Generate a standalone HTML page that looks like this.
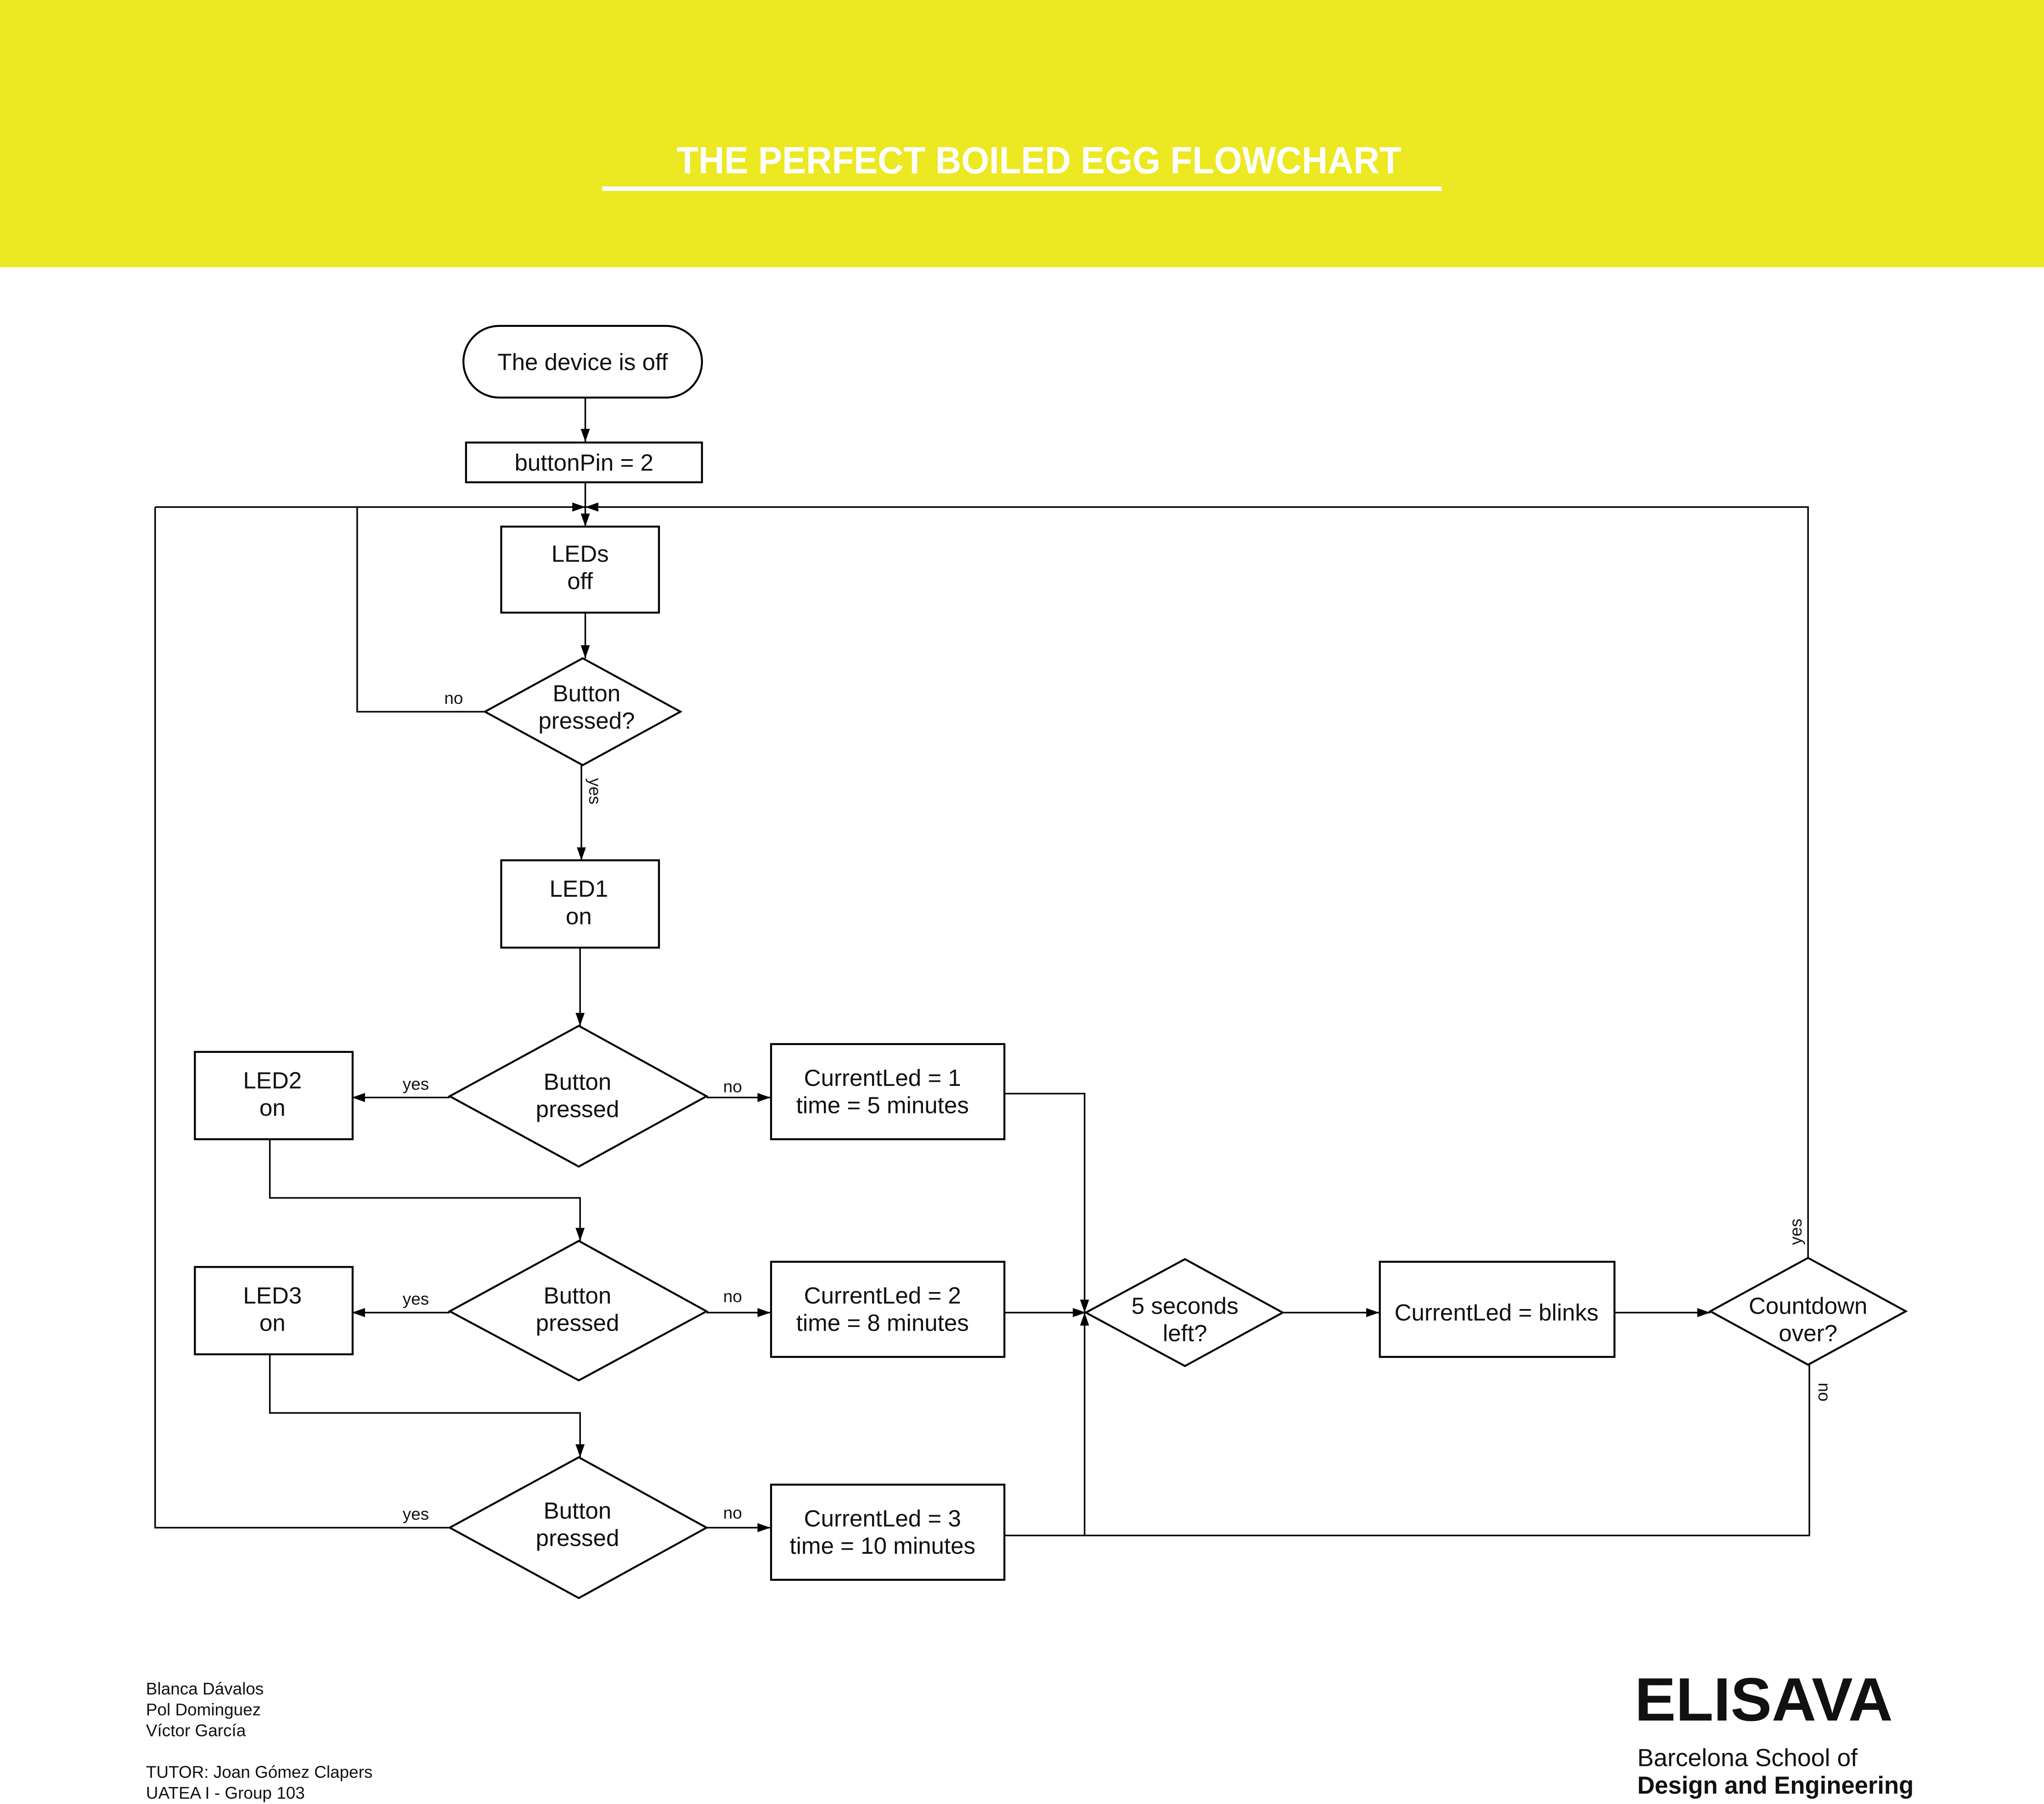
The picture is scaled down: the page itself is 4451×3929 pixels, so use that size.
<!DOCTYPE html>
<html><head><meta charset="utf-8"><style>
html,body{margin:0;padding:0;background:#fff;}
svg{display:block;}
text{font-family:"Liberation Sans",sans-serif;fill:#111;}
</style></head><body>
<svg width="4451" height="3929" viewBox="0 0 1568 1384" preserveAspectRatio="none" xmlns="http://www.w3.org/2000/svg">
<defs><marker id="a" viewBox="0 0 10 10" refX="10" refY="5" markerWidth="10" markerHeight="10" markerUnits="userSpaceOnUse" orient="auto"><path d="M0,1.5 L10,5 L0,8.5 z" fill="#000"/></marker></defs>
<rect x="0" y="0" width="1568" height="205" fill="#ECE821"/>
<text x="519" y="133" font-size="29" font-weight="bold" style="fill:#fff" textLength="556" lengthAdjust="spacingAndGlyphs">THE PERFECT BOILED EGG FLOWCHART</text>
<rect x="462" y="143" width="644" height="3.5" fill="#fff"/>
<g fill="none" stroke="#000" stroke-width="1.5">
<rect x="355.5" y="250" width="183" height="55" rx="27.5"/>
<rect x="357.5" y="339.5" width="181" height="30.5"/>
<rect x="384.5" y="404" width="121" height="66"/>
<polygon points="372,546 447,505 522,546 447,587"/>
<rect x="384.5" y="660" width="121" height="67"/>
<polygon points="345,841 444,787 542,841 444,895"/>
<rect x="149.5" y="807" width="121" height="67"/>
<rect x="591.5" y="801" width="179" height="73"/>
<polygon points="345,1006 444,952 542,1006 444,1059"/>
<rect x="149.5" y="972" width="121" height="67"/>
<rect x="591.5" y="968" width="179" height="73"/>
<polygon points="345,1172 444,1118 542,1172 444,1226"/>
<rect x="591.5" y="1139" width="179" height="73"/>
<polygon points="833,1007 909,966 984,1007 909,1048"/>
<rect x="1058.5" y="968" width="180" height="73"/>
<polygon points="1312,1006 1387,965 1462,1006 1387,1047"/>
</g>
<g fill="none" stroke="#000" stroke-width="1.2">
<path d="M449,305 V339" marker-end="url(#a)"/>
<path d="M449,370 V404" marker-end="url(#a)"/>
<path d="M449,470 V505" marker-end="url(#a)"/>
<path d="M372,546 H274 V389 H449" marker-end="url(#a)"/>
<path d="M119,389 H274"/>
<path d="M446,587 V660" marker-end="url(#a)"/>
<path d="M445,727 V787" marker-end="url(#a)"/>
<path d="M345,842 H270" marker-end="url(#a)"/>
<path d="M542,842 H591" marker-end="url(#a)"/>
<path d="M207,874 V919 H445 V952" marker-end="url(#a)"/>
<path d="M345,1007 H270" marker-end="url(#a)"/>
<path d="M542,1007 H591" marker-end="url(#a)"/>
<path d="M207,1039 V1084 H445 V1118" marker-end="url(#a)"/>
<path d="M345,1172 H119 V389"/>
<path d="M542,1172 H591" marker-end="url(#a)"/>
<path d="M770,839 H832 V1007" marker-end="url(#a)"/>
<path d="M770,1007 H833" marker-end="url(#a)"/>
<path d="M770,1178 H1388 V1047"/>
<path d="M832,1178 V1007" marker-end="url(#a)"/>
<path d="M984,1007 H1058" marker-end="url(#a)"/>
<path d="M1238,1007 H1312" marker-end="url(#a)"/>
<path d="M1387,965 V389 H449" marker-end="url(#a)"/>
</g>
<g font-size="18" text-anchor="middle">
<text x="447" y="284">The device is off</text>
<text x="448" y="361">buttonPin = 2</text>
<text x="445" y="431">LEDs</text><text x="445" y="452">off</text>
<text x="450" y="538">Button</text><text x="450" y="559">pressed?</text>
<text x="444" y="688">LED1</text><text x="444" y="709">on</text>
<text x="443" y="836">Button</text><text x="443" y="857">pressed</text>
<text x="209" y="835">LED2</text><text x="209" y="856">on</text>
<text x="677" y="833">CurrentLed = 1</text><text x="677" y="854">time = 5 minutes</text>
<text x="443" y="1000">Button</text><text x="443" y="1021">pressed</text>
<text x="209" y="1000">LED3</text><text x="209" y="1021">on</text>
<text x="677" y="1000">CurrentLed = 2</text><text x="677" y="1021">time = 8 minutes</text>
<text x="443" y="1165">Button</text><text x="443" y="1186">pressed</text>
<text x="677" y="1171">CurrentLed = 3</text><text x="677" y="1192">time = 10 minutes</text>
<text x="909" y="1008">5 seconds</text><text x="909" y="1029">left?</text>
<text x="1148" y="1013">CurrentLed = blinks</text>
<text x="1387" y="1008">Countdown</text><text x="1387" y="1029">over?</text>
</g>
<g font-size="13" text-anchor="middle">
<text x="348" y="540">no</text>
<text x="319" y="836">yes</text><text x="562" y="838">no</text>
<text x="319" y="1001">yes</text><text x="562" y="999">no</text>
<text x="319" y="1166">yes</text><text x="562" y="1165">no</text>
<text transform="translate(452,607) rotate(90)">yes</text>
<text transform="translate(1382,945) rotate(-90)">yes</text>
<text transform="translate(1395,1068) rotate(90)">no</text>
</g>
<g font-size="13">
<text x="112" y="1300">Blanca Dávalos</text>
<text x="112" y="1316">Pol Dominguez</text>
<text x="112" y="1332">Víctor García</text>
<text x="112" y="1364">TUTOR: Joan Gómez Clapers</text>
<text x="112" y="1380">UATEA I - Group 103</text>
</g>
<text x="1254" y="1320" font-size="47" font-weight="bold" textLength="198" lengthAdjust="spacingAndGlyphs">ELISAVA</text>
<text x="1256" y="1355" font-size="19" textLength="169" lengthAdjust="spacingAndGlyphs">Barcelona School of</text>
<text x="1256" y="1376" font-size="19" font-weight="bold" textLength="212" lengthAdjust="spacingAndGlyphs">Design and Engineering</text>
</svg>
</body></html>
